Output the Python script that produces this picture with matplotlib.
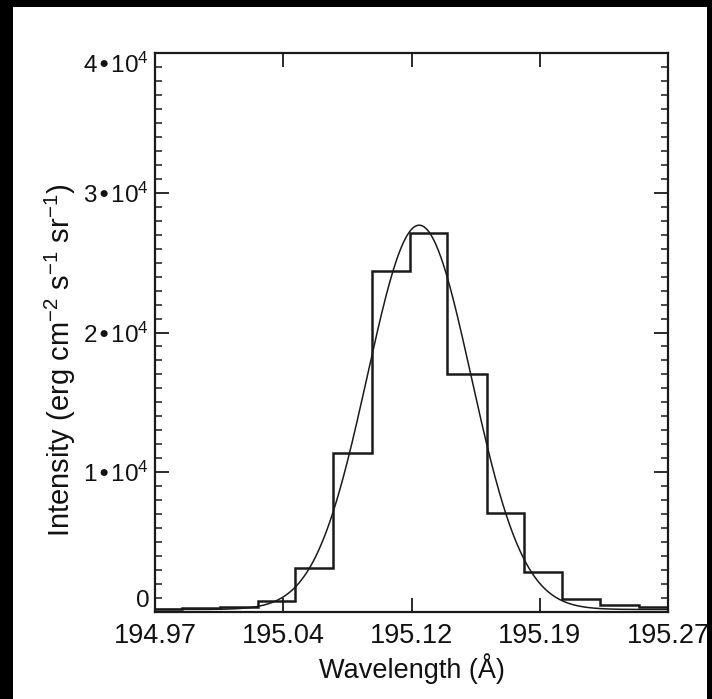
import numpy as np
import matplotlib
matplotlib.use("Agg")
import matplotlib.pyplot as plt
from matplotlib.patches import Rectangle
from matplotlib.ticker import FixedLocator, MultipleLocator

plt.rcParams["font.family"] = ["Liberation Sans", "DejaVu Sans"]
plt.rcParams["mathtext.default"] = "regular"

# --------------------
# Data
# --------------------
# histogram bin edges (Angstrom) and intensities
bin_edges = [194.959, 194.986, 195.008, 195.030, 195.052, 195.074, 195.097,
             195.119, 195.141, 195.164, 195.186, 195.208, 195.230, 195.253, 195.275]
bin_counts = [250, 310, 380, 800, 3150, 11400, 24400,
              27100, 17000, 7100, 2850, 920, 480, 330]

# gaussian fit parameters
fit_peak = 27500
fit_center = 195.1245
fit_sigma = 0.0304
fit_background = 180

x_ticks = [194.97, 195.045, 195.12, 195.195, 195.27]
x_ticklabels = ["194.97", "195.04", "195.12", "195.19", "195.27"]
y_ticks = [0, 10000, 20000, 30000, 40000]
y_ticklabels = ["0", "1•10$^{4}$", "2•10$^{4}$", "3•10$^{4}$", "4•10$^{4}$"]

# --------------------
# Figure
# --------------------
fig = plt.figure(figsize=(7.12, 6.99), dpi=100)
fig.patch.set_facecolor("black")
fig.patches.append(Rectangle((13 / 712, 0), (707 - 13) / 712, 1 - 7 / 699,
                             transform=fig.transFigure, facecolor="white",
                             edgecolor="none", zorder=-10))

ax = fig.add_axes([155 / 712, 1 - 612 / 699, 513 / 712, 559 / 699])
ax.set_facecolor("white")

ink = "#1a1a1a"
ax.stairs(bin_counts, bin_edges, color=ink, linewidth=1.8, zorder=3)

xs = np.linspace(x_ticks[0], x_ticks[-1], 600)
fit = fit_background + fit_peak * np.exp(-0.5 * ((xs - fit_center) / fit_sigma) ** 2)
ax.plot(xs, fit, color=ink, linewidth=1.1, zorder=4)

ax.set_xlim(x_ticks[0], x_ticks[-1])
ax.set_ylim(0, 40000)

ax.xaxis.set_major_locator(FixedLocator(x_ticks))
ax.set_xticklabels(x_ticklabels)
ax.yaxis.set_major_locator(FixedLocator(y_ticks))
ax.set_yticklabels(y_ticklabels)
ax.yaxis.set_minor_locator(MultipleLocator(1000))

ax.tick_params(axis="both", which="both", direction="in", top=True, right=True,
               colors=ink, labelcolor="#111111")
ax.tick_params(axis="x", which="major", length=10, width=1.3, labelsize=19.5, pad=8)
ax.tick_params(axis="y", which="major", length=10, width=1.3, labelsize=17.5, pad=4)
ax.tick_params(axis="y", which="minor", length=5, width=1.1)

for s in ax.spines.values():
    s.set_linewidth(1.6)
    s.set_color(ink)

# end labels sit inside the axis range like the original
ylabels = ax.get_yticklabels()
ylabels[0].set_verticalalignment("bottom")
ylabels[-1].set_verticalalignment("top")

ax.set_xlabel("Wavelength (Å)", fontsize=19.5, color="#111111", labelpad=3)
ax.set_ylabel("Intensity (erg cm$^{-2}$ s$^{-1}$ sr$^{-1}$)", fontsize=21,
              color="#111111")
ax.yaxis.set_label_coords(-0.15, 0.45)

fig.savefig("out.png", dpi=100, facecolor=fig.get_facecolor())
